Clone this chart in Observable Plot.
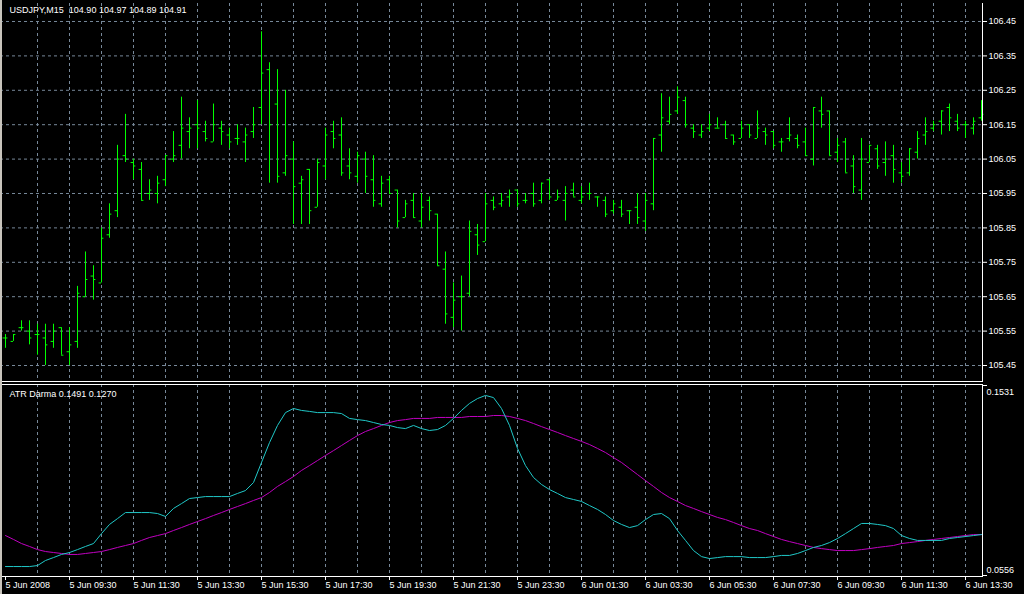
<!DOCTYPE html>
<html><head><meta charset="utf-8">
<script src="https://cdn.jsdelivr.net/npm/d3@7"></script>
<script src="https://cdn.jsdelivr.net/npm/@observablehq/plot@0.6"></script>
<style>
html,body{margin:0;padding:0;background:#000;}
#wrap{position:relative;width:1024px;height:594px;overflow:hidden;background:#000;}
#main{position:absolute;left:0;top:0;}
#ind{position:absolute;left:0;top:384px;}
#edgeL{position:absolute;left:0;top:0;width:2px;height:594px;background:#c8c4bc;}
</style></head><body>
<div id="wrap"><div id="main"></div><div id="ind"></div><div id="edgeL"></div></div>
<script>
const chartTitle = "USDJPY,M15  104.90 104.97 104.89 104.91";
const indTitle = "ATR Darma 0.1491 0.1270";
const xLabels = ["5 Jun 2008","5 Jun 09:30","5 Jun 11:30","5 Jun 13:30","5 Jun 15:30","5 Jun 17:30","5 Jun 19:30","5 Jun 21:30","5 Jun 23:30","6 Jun 01:30","6 Jun 03:30","6 Jun 05:30","6 Jun 07:30","6 Jun 09:30","6 Jun 11:30","6 Jun 13:30"];
const priceTicks = [105.45,105.55,105.65,105.75,105.85,105.95,106.05,106.15,106.25,106.35,106.45];
const indTicks = [0.0556,0.1531];

const open = [105.53,105.52,105.56,105.55,105.54,105.53,105.52,105.56,105.49,105.52,105.65,105.71,105.69,105.83,105.90,106.06,106.04,106.02,105.95,105.95,105.99,106.05,106.09,106.13,106.15,106.13,106.10,106.14,106.12,106.11,106.10,106.13,106.20,106.31,106.21,106.01,106.05,105.98,106.02,105.91,106.03,106.13,106.12,106.03,106.00,106.05,105.99,105.92,105.99,105.96,105.88,105.93,105.87,105.93,105.89,105.73,105.59,105.65,105.66,105.83,105.81,105.93,105.92,105.94,105.96,105.93,105.95,105.93,105.99,105.93,105.93,105.96,105.93,105.95,105.94,105.93,105.90,105.91,105.90,105.91,105.87,105.92,106.12,106.16,106.19,106.22,106.14,106.12,106.14,106.14,106.15,106.12,106.11,106.15,106.11,106.13,106.13,106.10,106.11,106.11,106.10,106.05,106.19,106.19,106.07,106.10,106.03,105.96,106.04,106.08,106.04,106.06,106.01,106.01,106.07,106.12,106.14,106.16,106.20,106.16,106.15,106.14,106.17];
const high = [105.54,105.54,105.58,105.58,105.57,105.57,105.57,105.56,105.56,105.68,105.78,105.74,105.85,105.92,106.09,106.18,106.05,106.04,105.99,106.00,106.06,106.13,106.23,106.17,106.22,106.16,106.21,106.16,106.14,106.15,106.14,106.20,106.42,106.33,106.31,106.25,106.10,106.00,106.02,106.05,106.14,106.16,106.17,106.08,106.07,106.07,106.06,106.00,106.00,105.96,105.93,105.95,105.95,105.94,105.89,105.78,105.69,105.71,105.87,105.86,105.95,105.94,105.95,105.96,105.96,105.95,105.98,105.98,105.99,105.96,105.97,105.98,105.97,105.98,105.94,105.94,105.93,105.93,105.90,105.95,105.95,106.11,106.24,106.23,106.26,106.23,106.15,106.15,106.18,106.17,106.16,106.12,106.16,106.15,106.19,106.14,106.13,106.11,106.17,106.12,106.14,106.20,106.23,106.19,106.11,106.11,106.06,106.11,106.09,106.09,106.10,106.09,106.04,106.08,106.13,106.17,106.16,106.19,106.21,106.18,106.16,106.17,106.22];
const low = [105.50,105.52,105.55,105.51,105.48,105.45,105.50,105.48,105.45,105.50,105.65,105.64,105.69,105.82,105.88,106.04,105.99,105.93,105.93,105.92,105.97,106.04,106.05,106.08,106.08,106.10,106.10,106.09,106.08,106.09,106.04,106.11,106.15,105.98,105.98,106.00,105.86,105.86,105.86,105.91,105.99,106.08,106.00,105.99,105.98,105.95,105.91,105.91,105.95,105.85,105.88,105.88,105.85,105.87,105.74,105.57,105.56,105.55,105.65,105.77,105.81,105.90,105.91,105.91,105.91,105.92,105.91,105.92,105.93,105.93,105.87,105.94,105.92,105.93,105.91,105.88,105.89,105.88,105.86,105.86,105.84,105.90,106.07,106.15,106.18,106.14,106.11,106.11,106.13,106.14,106.11,106.09,106.11,106.11,106.11,106.09,106.08,106.07,106.10,106.08,106.06,106.03,106.14,106.06,106.04,106.01,105.95,105.93,106.04,106.02,106.00,105.98,105.98,106.00,106.05,106.09,106.13,106.12,106.13,106.13,106.11,106.12,106.16];
const close = [105.53,105.54,105.56,105.53,105.54,105.51,105.55,105.48,105.51,105.66,105.70,105.70,105.82,105.89,106.05,106.05,106.03,105.93,105.96,105.98,106.06,106.06,106.14,106.14,106.14,106.11,106.15,106.13,106.10,106.11,106.12,106.15,106.30,106.15,106.00,106.06,105.97,105.99,105.90,106.04,106.12,106.11,106.01,106.01,106.06,106.00,105.93,105.98,105.95,105.87,105.92,105.88,105.91,105.90,105.74,105.60,105.64,105.65,105.84,105.80,105.92,105.91,105.93,105.95,105.92,105.93,105.92,105.98,105.94,105.94,105.95,105.94,105.94,105.95,105.94,105.89,105.92,105.89,105.90,105.88,105.93,106.11,106.17,106.18,106.23,106.15,106.13,106.13,106.15,106.14,106.11,106.10,106.14,106.12,106.14,106.12,106.09,106.10,106.12,106.09,106.06,106.20,106.18,106.06,106.09,106.01,105.97,106.05,106.09,106.03,106.05,106.02,106.00,106.08,106.11,106.13,106.15,106.19,106.17,106.14,106.15,106.16,106.18];

const atr = [0.0602,0.0602,0.0602,0.0602,0.0607,0.0633,0.0648,0.0664,0.0674,0.0689,0.0705,0.0720,0.0771,0.0818,0.0848,0.0879,0.0879,0.0879,0.0879,0.0874,0.0859,0.0900,0.0925,0.0951,0.0956,0.0961,0.0961,0.0961,0.0961,0.0977,0.0992,0.1033,0.1136,0.1238,0.1326,0.1392,0.1413,0.1403,0.1398,0.1392,0.1392,0.1392,0.1387,0.1362,0.1356,0.1351,0.1341,0.1331,0.1326,0.1315,0.1310,0.1326,0.1310,0.1300,0.1305,0.1326,0.1362,0.1403,0.1439,0.1464,0.1480,0.1469,0.1413,0.1326,0.1208,0.1120,0.1059,0.1023,0.0997,0.0977,0.0956,0.0946,0.0936,0.0915,0.0895,0.0869,0.0838,0.0818,0.0802,0.0812,0.0843,0.0869,0.0874,0.0848,0.0787,0.0736,0.0684,0.0653,0.0643,0.0648,0.0653,0.0653,0.0653,0.0648,0.0648,0.0648,0.0653,0.0659,0.0659,0.0669,0.0684,0.0700,0.0710,0.0725,0.0746,0.0771,0.0797,0.0823,0.0823,0.0818,0.0812,0.0797,0.0761,0.0746,0.0736,0.0736,0.0736,0.0736,0.0746,0.0751,0.0756,0.0761,0.0766];
const atrSignal = [0.0761,0.0741,0.0720,0.0705,0.0689,0.0679,0.0674,0.0669,0.0664,0.0664,0.0669,0.0674,0.0679,0.0689,0.0700,0.0710,0.0720,0.0736,0.0751,0.0761,0.0771,0.0787,0.0802,0.0818,0.0833,0.0848,0.0864,0.0879,0.0895,0.0910,0.0925,0.0941,0.0956,0.0982,0.1013,0.1038,0.1064,0.1095,0.1120,0.1146,0.1172,0.1197,0.1223,0.1249,0.1274,0.1295,0.1310,0.1326,0.1341,0.1351,0.1356,0.1362,0.1362,0.1362,0.1367,0.1367,0.1367,0.1367,0.1372,0.1372,0.1372,0.1377,0.1377,0.1372,0.1362,0.1351,0.1336,0.1320,0.1305,0.1290,0.1274,0.1259,0.1244,0.1228,0.1208,0.1187,0.1161,0.1136,0.1105,0.1074,0.1043,0.1013,0.0982,0.0956,0.0936,0.0915,0.0900,0.0884,0.0869,0.0854,0.0843,0.0828,0.0812,0.0797,0.0787,0.0771,0.0756,0.0741,0.0730,0.0720,0.0710,0.0700,0.0694,0.0689,0.0684,0.0684,0.0684,0.0689,0.0694,0.0700,0.0705,0.0710,0.0720,0.0725,0.0730,0.0736,0.0741,0.0746,0.0751,0.0756,0.0761,0.0766,0.0766];

const n = open.length;
const bars = open.map((o, i) => ({i, open: o, high: high[i], low: low[i], close: close[i]}));
const gridIdx = d3.range(4, n, 4);
const labelIdx = xLabels.map((_, k) => k * 8);
const font = "'Liberation Sans', Arial, sans-serif";
const grid = "#778899";
const dash = "3,3";
const barColor = "#00ff00";
const xOpt = {domain: [0, n - 1], range: [5, 981], axis: null};

const main = Plot.plot({
  width: 1024, height: 384,
  marginLeft: 0, marginRight: 42, marginTop: 3, marginBottom: 3,
  style: {background: "#000", color: "#fff", fontFamily: font, fontSize: "9px", overflow: "visible"},
  x: xOpt,
  y: {domain: [105.4035, 106.5023], range: [381, 3], axis: null},
  marks: [
    Plot.gridX(gridIdx, {stroke: grid, strokeOpacity: 1, strokeDasharray: dash}),
    Plot.gridY(priceTicks, {stroke: grid, strokeOpacity: 1, strokeDasharray: dash}),
    Plot.ruleX(bars, {x: "i", y1: "low", y2: "high", stroke: barColor}),
    Plot.ruleY(bars, {y: "open", x1: d => d.i - 0.3, x2: "i", stroke: barColor}),
    Plot.ruleY(bars, {y: "close", x1: "i", x2: d => d.i + 0.3, stroke: barColor}),
    Plot.axisY(priceTicks, {anchor: "right", tickSize: 4, tickPadding: 2, tickFormat: d => d.toFixed(2), stroke: "#fff", fill: "#fff", fontVariant: "normal"}),
    Plot.frame({anchor: "right", stroke: "#fff"}),
    Plot.frame({anchor: "bottom", stroke: "#fff"}),
    Plot.text([chartTitle], {frameAnchor: "top-left", dx: 9, dy: 3, lineAnchor: "top", textAnchor: "start", fill: "#fff"})
  ]
});
document.getElementById("main").appendChild(main);

const ind = Plot.plot({
  width: 1024, height: 210,
  marginLeft: 0, marginRight: 42, marginTop: 0, marginBottom: 18,
  style: {background: "#000", color: "#fff", fontFamily: font, fontSize: "9px", overflow: "visible"},
  x: xOpt,
  y: {domain: indTicks, range: [191, 1], axis: null},
  marks: [
    Plot.gridX(gridIdx, {stroke: grid, strokeOpacity: 1, strokeDasharray: dash}),
    Plot.line(atrSignal, {x: (d, i) => i, y: d => d, stroke: "#c000c0", strokeWidth: 1}),
    Plot.line(atr, {x: (d, i) => i, y: d => d, stroke: "#20c8c8", strokeWidth: 1}),
    Plot.frame({anchor: "right", stroke: "#fff"}),
    Plot.frame({anchor: "bottom", stroke: "#fff"}),
    Plot.frame({anchor: "top", stroke: "#fff"}),
    Plot.axisY(indTicks, {anchor: "right", tickSize: 4, tickFormat: () => "", stroke: "#fff"}),
    Plot.text([indTicks[1]], {y: d => d, text: d => d.toFixed(4), frameAnchor: "right", textAnchor: "start", lineAnchor: "top", dx: 4, dy: 3, fill: "#fff"}),
    Plot.text([indTicks[0]], {y: d => d, text: d => d.toFixed(4), frameAnchor: "right", textAnchor: "start", lineAnchor: "bottom", dx: 4, dy: -3, fill: "#fff"}),
    Plot.axisX(labelIdx, {anchor: "bottom", tickSize: 4, tickPadding: 1, textAnchor: "start", tickFormat: d => xLabels[d / 8], stroke: "#fff", fill: "#fff", fontVariant: "normal"}),
    Plot.text([indTitle], {frameAnchor: "top-left", dx: 9, dy: 6, lineAnchor: "top", textAnchor: "start", fill: "#fff"})
  ]
});
document.getElementById("ind").appendChild(ind);
</script>
</body></html>
